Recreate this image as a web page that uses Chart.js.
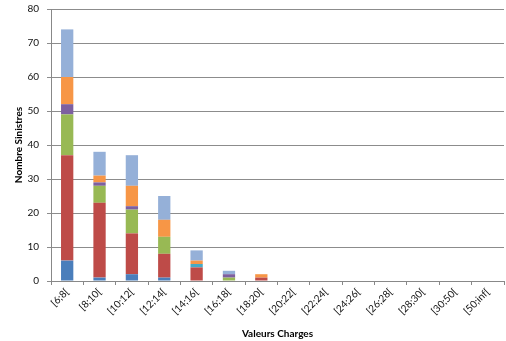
<!DOCTYPE html>
<html>
<head>
<meta charset="utf-8">
<script src="https://cdn.jsdelivr.net/npm/chart.js@4/dist/chart.umd.min.js"></script>
<style>
  html, body { margin: 0; padding: 0; background: #fff; }
  #wrap { width: 506px; height: 341px; position: relative; }
</style>
</head>
<body>
<div id="wrap"><canvas id="c" width="506" height="341"></canvas></div>
<script>
// Intervalles de charges (axe des abscisses)
const categories = ['[6;8[', '[8;10[', '[10;12[', '[12;14[', '[14;16[', '[16;18[', '[18;20[',
  '[20;22[', '[22;24[', '[24;26[', '[26;28[', '[28;30[', '[30;50[', '[50;inf['];

// Nombre de sinistres par série, empilés
const serie1 = [6, 1, 2, 1, 0, 0, 0, 0, 0, 0, 0, 0, 0, 0];
const serie2 = [31, 22, 12, 7, 4, 0, 1, 0, 0, 0, 0, 0, 0, 0];
const serie3 = [12, 5, 7, 5, 0, 1, 0, 0, 0, 0, 0, 0, 0, 0];
const serie4 = [3, 1, 1, 0, 0, 1, 0, 0, 0, 0, 0, 0, 0, 0];
const serie5 = [0, 0, 0, 0, 1, 0, 0, 0, 0, 0, 0, 0, 0, 0];
const serie6 = [8, 2, 6, 5, 1, 0, 1, 0, 0, 0, 0, 0, 0, 0];
const serie7 = [14, 7, 9, 7, 3, 1, 0, 0, 0, 0, 0, 0, 0, 0];

const yTicks = [0, 10, 20, 30, 40, 50, 60, 70, 80];

const series = [
  { label: 'Série 1', data: serie1, color: '#4A7EBB' },
  { label: 'Série 2', data: serie2, color: '#BE4B48' },
  { label: 'Série 3', data: serie3, color: '#98B954' },
  { label: 'Série 4', data: serie4, color: '#7D60A0' },
  { label: 'Série 5', data: serie5, color: '#46AAC5' },
  { label: 'Série 6', data: serie6, color: '#F79646' },
  { label: 'Série 7', data: serie7, color: '#95B0D8' }
];

const fontFamily = 'Lato, "Open Sans", sans-serif';

new Chart(document.getElementById('c'), {
  type: 'bar',
  data: {
    labels: categories,
    datasets: series.map(s => ({
      label: s.label,
      data: s.data,
      backgroundColor: s.color,
      borderWidth: 0,
      categoryPercentage: 1,
      barPercentage: 0.38
    }))
  },
  options: {
    responsive: false,
    animation: false,
    devicePixelRatio: 1,
    layout: { padding: { top: 0, right: 2, left: 13, bottom: 1 } },
    plugins: {
      legend: { display: false },
      tooltip: { enabled: false }
    },
    scales: {
      x: {
        stacked: true,
        offset: true,
        grid: {
          display: true,
          drawOnChartArea: false,
          drawTicks: true,
          tickLength: 4,
          offset: true,
          color: '#888888'
        },
        border: { display: true, color: '#888888' },
        ticks: {
          color: '#111',
          font: { family: fontFamily, size: 10 },
          maxRotation: 45,
          minRotation: 45,
          autoSkip: false,
          padding: 1
        },
        title: {
          display: true,
          text: 'Valeurs Charges',
          color: '#000',
          font: { family: fontFamily, size: 10, weight: 'bold' },
          padding: { top: 4, bottom: 0 }
        },
        afterFit: scale => {
          scale.height = 59;
          scale.paddingTop = 0;
          scale.paddingBottom = 0;
        }
      },
      y: {
        stacked: true,
        min: 0,
        max: 80,
        afterBuildTicks: scale => { scale.ticks = yTicks.map(v => ({ value: v })); },
        grid: {
          color: '#8C8C8C',
          tickLength: 4,
          drawTicks: true
        },
        border: { display: true, color: '#888888' },
        ticks: {
          color: '#111',
          font: { family: fontFamily, size: 10 },
          padding: 8
        },
        title: {
          display: true,
          text: 'Nombre Sinistres',
          color: '#000',
          font: { family: fontFamily, size: 10, weight: 'bold' },
          padding: { top: 0, bottom: 2 }
        },
        afterFit: scale => {
          scale.width = 38;
          scale.paddingTop = 9;
          scale.paddingBottom = 0;
        }
      }
    }
  }
});
</script>
</body>
</html>
